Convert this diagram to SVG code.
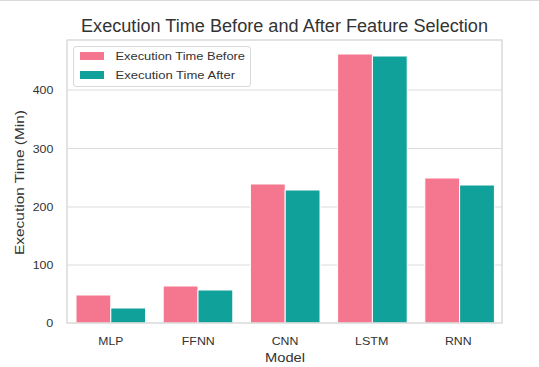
<svg xmlns="http://www.w3.org/2000/svg" width="539" height="367" viewBox="0 0 539 367">
  <style>
    text { font-family: "Liberation Sans", Arial, sans-serif; fill: #333333; }
    .tick { font-size: 11.5px; }
    .axis { font-size: 13.5px; }
    .title { font-size: 17.5px; }
    .grid { stroke: #dcdcdc; stroke-width: 1; }
    .frame { fill: none; stroke: #d4d4d4; stroke-width: 1.3; }
    .before { fill: #f5778f; stroke: #ffffff; stroke-width: 1; }
    .after { fill: #0fa19a; stroke: #ffffff; stroke-width: 1; }
  </style>
  <rect width="539" height="367" fill="#ffffff"/>
  <line x1="0" y1="0.5" x2="539" y2="0.5" stroke="#d9d9d9"/>

  <!-- title -->
  <text class="title" x="284.5" y="32" text-anchor="middle" textLength="407" lengthAdjust="spacingAndGlyphs">Execution Time Before and After Feature Selection</text>

  <!-- gridlines -->
  <g id="grid">
    <line class="grid" x1="67" y1="90" x2="502" y2="90"/>
    <line class="grid" x1="67" y1="148.5" x2="502" y2="148.5"/>
    <line class="grid" x1="67" y1="207" x2="502" y2="207"/>
    <line class="grid" x1="67" y1="265" x2="502" y2="265"/>
  </g>

  <!-- y axis ticks -->
  <g id="y-ticks" class="tick" text-anchor="end">
    <text x="53.3" y="327.3" textLength="7" lengthAdjust="spacingAndGlyphs">0</text>
    <text x="53.3" y="269" textLength="20.6" lengthAdjust="spacingAndGlyphs">100</text>
    <text x="53.3" y="211" textLength="20.6" lengthAdjust="spacingAndGlyphs">200</text>
    <text x="53.3" y="152.5" textLength="20.6" lengthAdjust="spacingAndGlyphs">300</text>
    <text x="53.3" y="94" textLength="20.6" lengthAdjust="spacingAndGlyphs">400</text>
  </g>
  <text class="axis" transform="translate(24,182.5) rotate(-90)" text-anchor="middle" textLength="145" lengthAdjust="spacingAndGlyphs">Execution Time (Min)</text>

  <!-- bars: before / after per model -->
  <g id="MLP">
    <rect class="before" x="76" y="295" width="34.8" height="28"/>
    <rect class="after" x="110.8" y="308" width="34.8" height="15"/>
  </g>
  <g id="FFNN">
    <rect class="before" x="163.2" y="286" width="34.8" height="37"/>
    <rect class="after" x="198" y="290" width="34.8" height="33"/>
  </g>
  <g id="CNN">
    <rect class="before" x="250.4" y="184" width="34.8" height="139"/>
    <rect class="after" x="285.2" y="190" width="34.8" height="133"/>
  </g>
  <g id="LSTM">
    <rect class="before" x="337.6" y="54" width="34.8" height="269"/>
    <rect class="after" x="372.4" y="56" width="34.8" height="267"/>
  </g>
  <g id="RNN">
    <rect class="before" x="424.8" y="178" width="34.8" height="145"/>
    <rect class="after" x="459.6" y="185" width="34.8" height="138"/>
  </g>

  <!-- plot frame -->
  <rect class="frame" x="67" y="40" width="435" height="283"/>

  <!-- x axis ticks -->
  <g id="x-ticks" class="tick" text-anchor="middle">
    <text x="110.8" y="345" textLength="25" lengthAdjust="spacingAndGlyphs">MLP</text>
    <text x="198.3" y="345" textLength="33" lengthAdjust="spacingAndGlyphs">FFNN</text>
    <text x="285" y="345" textLength="26.7" lengthAdjust="spacingAndGlyphs">CNN</text>
    <text x="371.7" y="345" textLength="33.3" lengthAdjust="spacingAndGlyphs">LSTM</text>
    <text x="458.3" y="345" textLength="26.7" lengthAdjust="spacingAndGlyphs">RNN</text>
  </g>
  <text class="axis" x="285" y="361.5" text-anchor="middle" textLength="40" lengthAdjust="spacingAndGlyphs">Model</text>

  <!-- legend -->
  <g id="legend">
    <rect x="73.5" y="46.5" width="177" height="40" rx="2.5" fill="#ffffff" fill-opacity="0.8" stroke="#d9d9d9" stroke-width="1"/>
    <rect x="80" y="52" width="24" height="8" fill="#f5778f"/>
    <rect x="80" y="71" width="24" height="8" fill="#0fa19a"/>
    <text class="tick" x="115.5" y="60" textLength="129.5" lengthAdjust="spacingAndGlyphs">Execution Time Before</text>
    <text class="tick" x="115.5" y="79" textLength="119.5" lengthAdjust="spacingAndGlyphs">Execution Time After</text>
  </g>
</svg>
